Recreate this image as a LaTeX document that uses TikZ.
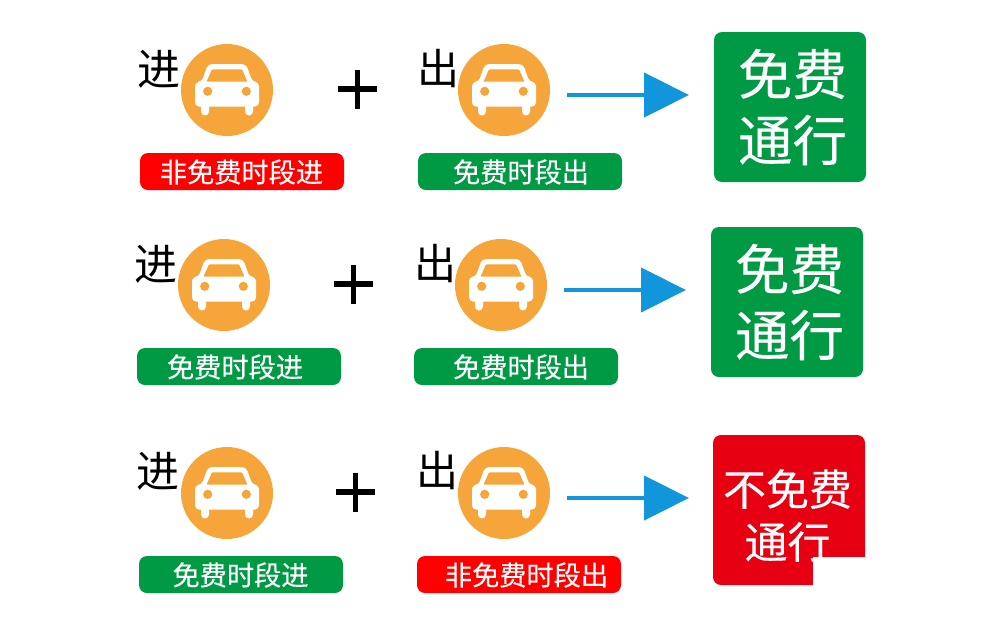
\documentclass[tikz,border=0pt]{standalone}
\usepackage{fontspec}
\setmainfont{Noto Sans CJK SC}
\newfontfamily\heavyfont[FakeBold=0.25]{Noto Sans CJK SC}
\usetikzlibrary{arrows.meta}

\definecolor{carorange}{HTML}{F6A53A}
\definecolor{freegreen}{HTML}{009A44}
\definecolor{chargered}{HTML}{FF0000}
\definecolor{boxred}{HTML}{E60012}
\definecolor{arrowblue}{HTML}{1296DB}

\tikzset{
  caricon/.style={circle, fill=carorange, minimum size=92pt, inner sep=0pt},
  gateIn/.style={inner sep=0pt, text=black, font=\fontsize{43}{43}\selectfont},
  gateOut/.style={inner sep=0pt, text=black, font=\fontsize{42}{42}\selectfont},
  periodtag/.style={rectangle, rounded corners=8pt, minimum width=204pt, minimum height=37pt, inner sep=0pt},
  tagtext/.style={inner sep=0pt, text=white, font=\heavyfont\fontsize{27.2}{28}\selectfont},
  resultbox/.style={rectangle, rounded corners=8pt, minimum width=152pt, minimum height=150pt, inner sep=0pt},
  resulttext/.style={inner sep=0pt, text=white, font=\heavyfont\fontsize{54.5}{55}\selectfont},
  resultsmall/.style={inner sep=0pt, text=white, font=\heavyfont\fontsize{43}{43}\selectfont},
  flowarrow/.style={arrowblue, line width=4.4pt, -{Triangle[length=45pt, width=44pt]}},
  plussign/.style={line width=5.2pt, black},
  pics/carshape/.style={code={
    % body with the wheels, then the window and the lamps cut out in orange
    \fill[white, rounded corners=4pt] (-32,16.5) -- (-32,-8) -- (-25.5,-8) -- (-19,-26) -- (19,-26)
      -- (25.5,-8) -- (32,-8) -- (32,16.5) -- cycle;
    \fill[white, rounded corners=4pt] (-26,12) rectangle (-18,25.5);
    \fill[white, rounded corners=4pt] (18,12) rectangle (26,25.5);
    \fill[carorange, rounded corners=1pt] (-20.5,-8.3) -- (-15,-20.7) -- (15,-20.7) -- (20.5,-8.3) -- cycle;
    \fill[carorange] (-19.3,1.3) circle (4.6) (19.3,1.3) circle (4.6);
  }},
  pics/plusmark/.style={code={
    \draw[plussign] (-19.5,0) -- (19.5,0);
    \draw[plussign] (0,-19.5) -- (0,19.5);
  }}
}

\begin{document}
\begin{tikzpicture}[x=1pt, y=-1pt]
  \useasboundingbox (0,0) rectangle (1002,622);

  % First row
  \node[caricon] (carInA) at (227,90) {};
  \pic at (carInA) {carshape};
  \node[gateIn] (gateInA) at (159,69) {进};
  \node[periodtag, fill=chargered] (tagInA) at (242,171.5) {};
  \node[tagtext] (tagTextInA) at (241.5,172) {非免费时段进};
  \pic at (357.3,89) {plusmark};
  \node[caricon] (carOutA) at (504,90) {};
  \pic at (carOutA) {carshape};
  \node[gateOut] (gateOutA) at (438,69) {出};
  \node[periodtag, fill=freegreen] (tagOutA) at (520,171.5) {};
  \node[tagtext] (tagTextOutA) at (521,172) {免费时段出};
  \coordinate (arrowStartA) at (567,95);
  \coordinate (arrowEndA) at (689,95);
  \draw[flowarrow] (arrowStartA) -- (arrowEndA);
  \node[resultbox, fill=freegreen] (resultA) at (790,107) {};
  \node[resulttext] (resultTopA) at (792.5,74) {免费};
  \node[resulttext] (resultLowA) at (792.5,140) {通行};

  % Second row
  \node[caricon] (carInB) at (224,285) {};
  \pic at (carInB) {carshape};
  \node[gateIn] (gateInB) at (156,264) {进};
  \node[periodtag, fill=freegreen] (tagInB) at (239,366.5) {};
  \node[tagtext] (tagTextInB) at (235,367) {免费时段进};
  \pic at (353.3,284) {plusmark};
  \node[caricon] (carOutB) at (501,285) {};
  \pic at (carOutB) {carshape};
  \node[gateOut] (gateOutB) at (435,264) {出};
  \node[periodtag, fill=freegreen] (tagOutB) at (516,366.5) {};
  \node[tagtext] (tagTextOutB) at (521,367) {免费时段出};
  \coordinate (arrowStartB) at (564,290);
  \coordinate (arrowEndB) at (686,290);
  \draw[flowarrow] (arrowStartB) -- (arrowEndB);
  \node[resultbox, fill=freegreen] (resultB) at (787,302) {};
  \node[resulttext] (resultTopB) at (789.5,269) {免费};
  \node[resulttext] (resultLowB) at (789.5,335) {通行};

  % Third row
  \node[caricon] (carInC) at (227,493) {};
  \pic at (carInC) {carshape};
  \node[gateIn] (gateInC) at (158,471) {进};
  \node[periodtag, fill=freegreen] (tagInC) at (241,574.5) {};
  \node[tagtext] (tagTextInC) at (240.5,575) {免费时段进};
  \pic at (355.3,492) {plusmark};
  \node[caricon] (carOutC) at (504,493) {};
  \pic at (carOutC) {carshape};
  \node[gateOut] (gateOutC) at (437,471) {出};
  \node[periodtag, fill=chargered] (tagOutC) at (519,574.5) {};
  \node[tagtext] (tagTextOutC) at (526.5,575) {非免费时段出};
  \coordinate (arrowStartC) at (567,498);
  \coordinate (arrowEndC) at (689,498);
  \draw[flowarrow] (arrowStartC) -- (arrowEndC);
  \node[resultbox, fill=boxred] (resultC) at (789,510) {};
  \node[resultsmall] (resultTopC) at (787.5,489) {不免费};
  \node[resultsmall] (resultLowC) at (787.5,542) {通行};

  % White corner over the last box
  \fill[white] (813,557) rectangle (866,586);
\end{tikzpicture}
\end{document}
